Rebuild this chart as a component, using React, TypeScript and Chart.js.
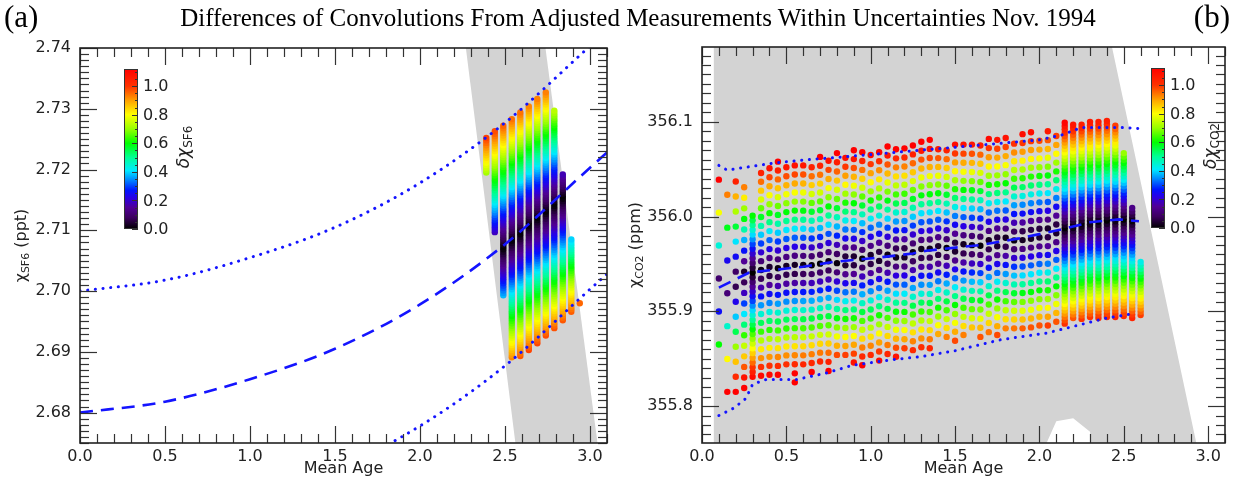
import React, { useEffect, useRef } from "react";
import { Chart, registerables } from "chart.js";

Chart.register(...registerables);

const FONT = "'DejaVu Sans', sans-serif";

// ---------------- Panel (a): SF6 ----------------
const sf6ColumnAges = [2.39, 2.44, 2.49, 2.54, 2.59, 2.64, 2.69, 2.74, 2.79, 2.84, 2.89, 2.94];
const sf6ColumnLow = [2.7195, 2.7097, 2.6993, 2.6891, 2.6893, 2.6903, 2.6914, 2.6927, 2.6939, 2.6952, 2.6966, 2.698];
const sf6ColumnHigh = [2.7252, 2.7263, 2.7272, 2.7283, 2.7294, 2.7304, 2.7316, 2.7327, 2.7297, 2.7192, 2.7085, 2.698];
const sf6ColumnCenter = [2.7045, 2.7058, 2.7072, 2.7085, 2.7096, 2.711, 2.7121, 2.7132, 2.7143, 2.7155, 2.7168, 2.718];
const sf6Uncertainty = 0.021;

const sf6LineAges = [0, 0.5, 1.0, 1.5, 2.0, 2.5, 3.0, 3.1];
const sf6CenterLine = [2.68, 2.6818, 2.6855, 2.6905, 2.6978, 2.7077, 2.7203, 2.7228];
const sf6UpperLine = [2.7, 2.7018, 2.7055, 2.7105, 2.7178, 2.7277, 2.7403, 2.7428];
const sf6LowerLine = [2.66, 2.6618, 2.6655, 2.6705, 2.6778, 2.6877, 2.7003, 2.7028];

const sf6BandAges = [2.27, 2.738, 3.044, 2.561];
const sf6BandValues = [2.74, 2.74, 2.675, 2.675];

// ---------------- Panel (b): CO2 ----------------
const co2ColumnAges = [
  0.1, 0.15, 0.2, 0.25, 0.3, 0.35, 0.4, 0.45, 0.5, 0.55, 0.6, 0.65, 0.7, 0.75, 0.8, 0.85, 0.9,
  0.95, 1.0, 1.05, 1.1, 1.15, 1.2, 1.25, 1.3, 1.35, 1.4, 1.45, 1.5, 1.55, 1.6, 1.65, 1.7, 1.75,
  1.8, 1.85, 1.9, 1.95, 2.0, 2.05, 2.1, 2.15, 2.2, 2.25, 2.3, 2.35, 2.4, 2.45, 2.5, 2.55, 2.6,
];
const co2ColumnLow = [
  355.865, 355.815, 355.815, 355.819, 355.831, 355.832, 355.833, 355.833, 355.844, 355.825, 355.844,
  355.836, 355.847, 355.837, 355.854, 355.854, 355.846, 355.843, 355.854, 355.848, 355.855, 355.852,
  355.861, 355.859, 355.862, 355.861, 355.876, 355.873, 355.869, 355.875, 355.883, 355.873, 355.878,
  355.875, 355.882, 355.882, 355.882, 355.883, 355.885, 355.885, 355.889, 355.887, 355.893, 355.892,
  355.894, 355.893, 355.894, 355.894, 355.895, 355.893, 355.896,
];
const co2ColumnHigh = [
  356.039, 356.023, 356.037, 356.031, 356.001, 356.046, 356.051, 356.058, 356.052, 356.054, 356.054,
  356.052, 356.063, 356.059, 356.067, 356.062, 356.07, 356.068, 356.065, 356.068, 356.074, 356.071,
  356.072, 356.075, 356.079, 356.081, 356.071, 356.07, 356.076, 356.076, 356.076, 356.075, 356.082,
  356.081, 356.083, 356.077, 356.087, 356.089, 356.08, 356.09, 356.085, 356.099, 356.097, 356.097,
  356.1, 356.1, 356.101, 356.096, 356.067, 356.009, 355.952,
];
const co2ColumnCenter = [
  355.925, 355.93, 355.933, 355.938, 355.941, 355.942, 355.943, 355.944, 355.945, 355.946, 355.947,
  355.948, 355.95, 355.951, 355.952, 355.953, 355.954, 355.955, 355.956, 355.957, 355.958, 355.959,
  355.96, 355.961, 355.963, 355.964, 355.965, 355.966, 355.967, 355.968, 355.969, 355.97, 355.972,
  355.973, 355.975, 355.976, 355.978, 355.98, 355.982, 355.984, 355.986, 355.988, 355.99, 355.992,
  355.994, 355.995, 355.996, 355.997, 355.997, 355.996, 355.995,
];
const co2DotSpacing = [
  0.035, 0.035, 0.016, 0.011, 0.005, 0.0095, 0.0095, 0.0095, 0.0095, 0.0095, 0.0095, 0.0095, 0.0095,
  0.0095, 0.0095, 0.0095, 0.0095, 0.0095, 0.0095, 0.0095, 0.0095, 0.0095, 0.0095, 0.0095, 0.0095,
  0.0095, 0.0095, 0.0095, 0.0095, 0.0095, 0.0095, 0.0095, 0.0095, 0.0095, 0.0095, 0.0095, 0.0095,
  0.0095, 0.0095, 0.0095, 0.0095, 0.0035, 0.0035, 0.0035, 0.0035, 0.0035, 0.0035, 0.0035, 0.0035, 0.0035, 0.0035,
];
const co2Uncertainty = 0.1;

const co2CenterAges = [0.1, 0.28, 0.44, 0.6, 0.775, 1.01, 1.25, 1.33, 1.65, 1.88, 2.12, 2.3, 2.47, 2.59];
const co2CenterLine = [355.925, 355.941, 355.944, 355.947, 355.952, 355.956, 355.961, 355.964, 355.97, 355.977, 355.986, 355.994, 355.997, 355.995];
const co2UpperAges = [0.1, 0.15, 0.33, 0.45, 0.62, 0.77, 0.97, 1.29, 1.49, 1.75, 2.0, 2.13, 2.25, 2.49, 2.59];
const co2UpperLine = [356.054, 356.049, 356.054, 356.057, 356.06, 356.062, 356.065, 356.07, 356.073, 356.077, 356.081, 356.086, 356.094, 356.094, 356.093];
const co2LowerAges = [0.1, 0.19, 0.26, 0.3, 0.38, 0.56, 0.74, 0.89, 1.13, 1.29, 1.49, 1.77, 2.04, 2.2, 2.4, 2.57];
const co2LowerLine = [355.79, 355.798, 355.808, 355.823, 355.828, 355.828, 355.835, 355.843, 355.849, 355.852, 355.858, 355.87, 355.877, 355.884, 355.893, 355.898];

const co2BandAges = [0.07, 2.405, 2.955, 2.315, 2.3, 2.2, 2.1, 1.99, 0.07];
const co2BandValues = [356.2, 356.2, 355.74, 355.74, 355.773, 355.787, 355.784, 355.74, 355.74];

const xTickLabels = [0.0, 0.5, 1.0, 1.5, 2.0, 2.5, 3.0];
const colorbarTicks = [0.0, 0.2, 0.4, 0.6, 0.8, 1.0];

// ---------------- colour map ----------------
const cmapStops: [number, number[]][] = [
  [0.0, [0, 0, 0]],
  [0.08, [60, 0, 95]],
  [0.15, [80, 0, 150]],
  [0.22, [40, 0, 230]],
  [0.27, [0, 20, 255]],
  [0.34, [0, 130, 255]],
  [0.41, [0, 235, 255]],
  [0.5, [0, 255, 150]],
  [0.6, [0, 255, 0]],
  [0.7, [150, 255, 0]],
  [0.8, [255, 255, 0]],
  [0.9, [255, 160, 0]],
  [1.0, [255, 50, 0]],
  [1.12, [255, 0, 0]],
];

function cmap(d: number): string {
  const v = Math.max(0, Math.min(1.12, d));
  for (let i = 1; i < cmapStops.length; i++) {
    const [v1, c1] = cmapStops[i];
    const [v0, c0] = cmapStops[i - 1];
    if (v <= v1) {
      const t = (v - v0) / (v1 - v0);
      const c = c0.map((a, k) => Math.round(a + (c1[k] - a) * t));
      return `rgb(${c[0]},${c[1]},${c[2]})`;
    }
  }
  return "rgb(255,0,0)";
}

function columnDots(ages: number[], lows: number[], highs: number[], centers: number[], spacing: number[], unc: number) {
  const pts: { x: number; y: number; c: string }[] = [];
  ages.forEach((a, i) => {
    const span = highs[i] - lows[i];
    const n = Math.max(0, Math.round(span / spacing[i]));
    for (let k = 0; k <= n; k++) {
      const v = n === 0 ? lows[i] : lows[i] + (span * k) / n;
      pts.push({ x: a, y: v, c: cmap(Math.abs(v - centers[i]) / unc) });
    }
  });
  return pts;
}

type Part = { t: string; sub?: boolean; italic?: boolean };

function drawRotated(ctx: CanvasRenderingContext2D, cx: number, cy: number, parts: Part[], size: number) {
  ctx.save();
  ctx.translate(cx, cy);
  ctx.rotate(-Math.PI / 2);
  const fontFor = (p: Part) => `${p.italic ? "italic " : ""}${p.sub ? Math.round(size * 0.68) : size}px ${FONT}`;
  let total = 0;
  const widths = parts.map((p) => {
    ctx.font = fontFor(p);
    const w = ctx.measureText(p.t).width;
    total += w;
    return w;
  });
  let x = -total / 2;
  ctx.textAlign = "left";
  ctx.textBaseline = "alphabetic";
  ctx.fillStyle = "#222";
  parts.forEach((p, i) => {
    ctx.font = fontFor(p);
    ctx.fillText(p.t, x, p.sub ? size * 0.35 + size * 0.2 : size * 0.35);
    x += widths[i];
  });
  ctx.restore();
}

const panelPlugin = {
  id: "panel",
  beforeDatasetsDraw(chart: any, _a: any, o: any) {
    const { ctx, chartArea: a, scales } = chart;
    const xs = scales.x;
    const ys = scales.y;
    ctx.save();
    ctx.beginPath();
    ctx.rect(a.left, a.top, a.right - a.left, a.bottom - a.top);
    ctx.clip();
    ctx.fillStyle = "#d3d3d3";
    ctx.beginPath();
    const bx: number[] = o.bandX;
    const by: number[] = o.bandY;
    for (let i = 0; i < bx.length; i++) {
      const px = xs.getPixelForValue(bx[i]);
      const py = ys.getPixelForValue(by[i]);
      if (i === 0) ctx.moveTo(px, py);
      else ctx.lineTo(px, py);
    }
    ctx.closePath();
    ctx.fill();
    ctx.restore();
  },
  afterDraw(chart: any, _a: any, o: any) {
    const { ctx, chartArea: a, scales } = chart;
    const xs = scales.x;
    const ys = scales.y;
    ctx.save();
    ctx.strokeStyle = "#333";
    ctx.lineWidth = 1.2;
    const line = (x1: number, y1: number, x2: number, y2: number) => {
      ctx.beginPath();
      ctx.moveTo(x1, y1);
      ctx.lineTo(x2, y2);
      ctx.stroke();
    };
    // x ticks (minor 0.1, major 0.5)
    const xk0 = Math.ceil(xs.min / 0.1 - 1e-6);
    const xk1 = Math.floor(xs.max / 0.1 + 1e-6);
    for (let k = xk0; k <= xk1; k++) {
      const px = Math.round(xs.getPixelForValue(k * 0.1)) + 0.5;
      const L = k % 5 === 0 ? 17 : 9;
      line(px, a.bottom, px, a.bottom - L);
      line(px, a.top, px, a.top + L);
    }
    const yk0 = Math.ceil(ys.min / o.yMinor - 1e-6);
    const yk1 = Math.floor(ys.max / o.yMinor + 1e-6);
    for (let k = yk0; k <= yk1; k++) {
      const py = Math.round(ys.getPixelForValue(k * o.yMinor)) + 0.5;
      const L = k % 10 === 0 ? 17 : 9;
      line(a.left, py, a.left + L, py);
      line(a.right, py, a.right - L, py);
    }
    // frame
    ctx.strokeStyle = "#222";
    ctx.lineWidth = 1.6;
    ctx.strokeRect(a.left, a.top, a.right - a.left, a.bottom - a.top);

    // colour bar
    const { cbX, cbY, cbW, cbH } = o;
    const max = 1.12;
    const g = ctx.createLinearGradient(0, cbY + cbH, 0, cbY);
    cmapStops.forEach(([v]) => g.addColorStop(Math.min(1, v / max), cmap(v)));
    ctx.fillStyle = g;
    ctx.fillRect(cbX, cbY, cbW, cbH);
    ctx.strokeStyle = "#333";
    ctx.lineWidth = 1;
    ctx.strokeRect(cbX + 0.5, cbY + 0.5, cbW - 1, cbH - 1);
    const vy = (v: number) => cbY + cbH - (v / max) * cbH;
    for (let k = 0; k <= 22; k++) {
      const py = Math.round(vy(k * 0.05)) + 0.5;
      const L = k % 4 === 0 ? 6 : 3;
      line(cbX + cbW, py, cbX + cbW - L, py);
    }
    ctx.fillStyle = "#222";
    ctx.font = `16px ${FONT}`;
    ctx.textAlign = "left";
    ctx.textBaseline = "middle";
    colorbarTicks.forEach((v) => ctx.fillText(v.toFixed(1), cbX + cbW + 5, vy(v) + 1));
    drawRotated(ctx, cbX + cbW + 45, cbY + 78, [
      { t: "δχ", italic: true },
      { t: o.species, sub: true },
    ], 17);

    // y axis title
    drawRotated(ctx, o.yTitleX, (a.top + a.bottom) / 2, [
      { t: "χ" },
      { t: o.species, sub: true },
      { t: " (" + o.unit + ")" },
    ], 16);
    ctx.restore();
  },
};

function lineDataset(ages: number[], vals: number[], dotted: boolean, smooth: boolean) {
  return {
    data: ages.map((a, i) => ({ x: a, y: vals[i] })),
    borderColor: "rgb(20,20,255)",
    borderWidth: dotted ? 3 : 2.6,
    borderDash: dotted ? [0.1, 7.6] : [13, 8],
    borderCapStyle: dotted ? "round" : "butt",
    pointRadius: 0,
    fill: false,
    cubicInterpolationMode: smooth ? "monotone" : "default",
    tension: 0,
  };
}

function makeConfig(p: {
  lines: any[];
  dots: { x: number; y: number; c: string }[];
  radius: number;
  yMin: number;
  yMax: number;
  yStep: number;
  yDigits: number;
  yWidth: number;
  padTop: number;
  plugin: any;
}) {
  return {
    type: "line",
    data: {
      datasets: [
        ...p.lines,
        {
          data: p.dots.map((d) => ({ x: d.x, y: d.y })),
          showLine: false,
          pointRadius: p.radius,
          pointHoverRadius: p.radius,
          pointBorderWidth: 0,
          pointBackgroundColor: p.dots.map((d) => d.c),
          pointBorderColor: p.dots.map((d) => d.c),
        },
      ],
    },
    options: {
      responsive: false,
      animation: false,
      events: [],
      layout: { padding: { top: p.padTop, right: 10, left: 0, bottom: 0 } },
      plugins: { legend: { display: false }, tooltip: { enabled: false }, panel: p.plugin },
      scales: {
        x: {
          type: "linear",
          min: 0,
          max: 3.1,
          afterFit: (s: any) => {
            s.height = 37;
          },
          afterBuildTicks: (s: any) => {
            s.ticks = xTickLabels.map((v) => ({ value: v }));
          },
          grid: { display: false, drawTicks: false },
          border: { display: false },
          ticks: {
            padding: 4,
            maxRotation: 0,
            autoSkip: false,
            color: "#222",
            font: { family: FONT, size: 16 },
            callback: (v: any) => Number(v).toFixed(1),
          },
          title: {
            display: true,
            text: "Mean Age",
            color: "#222",
            font: { family: FONT, size: 16 },
            padding: { top: 0, bottom: 2 },
          },
        },
        y: {
          type: "linear",
          min: p.yMin,
          max: p.yMax,
          afterFit: (s: any) => {
            s.width = p.yWidth;
          },
          grid: { display: false, drawTicks: false },
          border: { display: false },
          ticks: {
            stepSize: p.yStep,
            includeBounds: false,
            padding: 9,
            color: "#222",
            font: { family: FONT, size: 16 },
            callback: (v: any) => Number(v).toFixed(p.yDigits),
          },
        },
      },
    },
    plugins: [panelPlugin],
  } as any;
}

export default function App() {
  const leftRef = useRef<HTMLCanvasElement>(null);
  const rightRef = useRef<HTMLCanvasElement>(null);

  useEffect(() => {
    const sf6Dots = columnDots(
      sf6ColumnAges,
      sf6ColumnLow,
      sf6ColumnHigh,
      sf6ColumnCenter,
      sf6ColumnAges.map(() => 0.0004),
      sf6Uncertainty
    );
    const co2Dots = columnDots(co2ColumnAges, co2ColumnLow, co2ColumnHigh, co2ColumnCenter, co2DotSpacing, co2Uncertainty);

    const c1 = new Chart(
      leftRef.current as HTMLCanvasElement,
      makeConfig({
        lines: [
          lineDataset(sf6LineAges, sf6CenterLine, false, true),
          lineDataset(sf6LineAges, sf6UpperLine, true, true),
          lineDataset(sf6LineAges, sf6LowerLine, true, true),
        ],
        dots: sf6Dots,
        radius: 3.2,
        yMin: 2.675,
        yMax: 2.74,
        yStep: 0.01,
        yDigits: 2,
        yWidth: 80,
        padTop: 48,
        plugin: {
          bandX: sf6BandAges,
          bandY: sf6BandValues,
          yMinor: 0.001,
          cbX: 124,
          cbY: 69,
          cbW: 14,
          cbH: 160,
          species: "SF6",
          unit: "ppt",
          yTitleX: 20,
        },
      })
    );
    const c2 = new Chart(
      rightRef.current as HTMLCanvasElement,
      makeConfig({
        lines: [
          lineDataset(co2CenterAges, co2CenterLine, false, false),
          lineDataset(co2UpperAges, co2UpperLine, true, false),
          lineDataset(co2LowerAges, co2LowerLine, true, false),
        ],
        dots: co2Dots,
        radius: 3.2,
        yMin: 355.761,
        yMax: 356.179,
        yStep: 0.1,
        yDigits: 1,
        yWidth: 85,
        padTop: 47,
        plugin: {
          bandX: co2BandAges,
          bandY: co2BandValues,
          yMinor: 0.01,
          cbX: 534,
          cbY: 68,
          cbW: 14,
          cbH: 160,
          species: "CO2",
          unit: "ppm",
          yTitleX: 17,
        },
      })
    );
    return () => {
      c1.destroy();
      c2.destroy();
    };
  }, []);

  const serif = "'Liberation Serif', 'Times New Roman', serif";
  return (
    <div style={{ position: "fixed", left: 0, top: 0, width: 1235, height: 480, background: "#fff", overflow: "hidden" }}>
      <canvas ref={leftRef} width={617} height={480} style={{ position: "absolute", left: 0, top: 0 }} />
      <canvas ref={rightRef} width={618} height={480} style={{ position: "absolute", left: 617, top: 0 }} />
      <div style={{ position: "absolute", left: 4, top: 0, fontFamily: serif, fontSize: 31, lineHeight: "34px", color: "#000" }}>(a)</div>
      <div
        style={{
          position: "absolute",
          left: 638,
          top: 4,
          transform: "translateX(-50%)",
          whiteSpace: "nowrap",
          fontFamily: serif,
          fontSize: 25,
          lineHeight: "28px",
          color: "#000",
        }}
      >
        Differences of Convolutions From Adjusted Measurements Within Uncertainties Nov. 1994
      </div>
      <div style={{ position: "absolute", right: 5, top: 0, fontFamily: serif, fontSize: 31, lineHeight: "34px", color: "#000" }}>(b)</div>
    </div>
  );
}
